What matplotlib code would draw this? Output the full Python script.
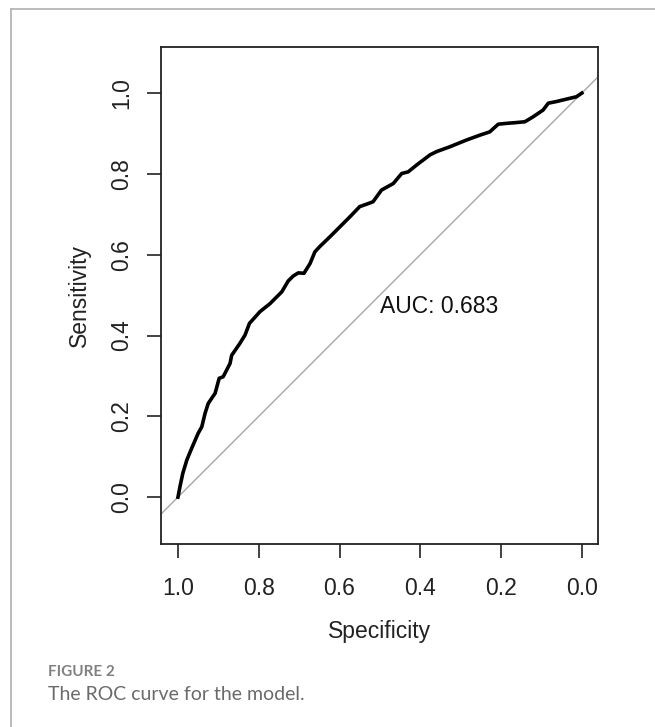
import matplotlib
matplotlib.use("Agg")
import matplotlib.pyplot as plt
from matplotlib.lines import Line2D

# ROC curve points (specificity, sensitivity)
specificity = [1.000, 0.995, 0.988, 0.978, 0.966, 0.950, 0.941, 0.933, 0.925, 0.908,
               0.898, 0.888, 0.871, 0.867, 0.847, 0.834, 0.823, 0.805, 0.797, 0.772,
               0.743, 0.727, 0.715, 0.702, 0.688, 0.673, 0.661, 0.649, 0.624, 0.599,
               0.574, 0.550, 0.533, 0.517, 0.496, 0.467, 0.446, 0.430, 0.409, 0.376,
               0.360, 0.327, 0.285, 0.252, 0.228, 0.207, 0.187, 0.162, 0.141, 0.121,
               0.096, 0.083, 0.063, 0.038, 0.013, 0.000]
sensitivity = [0.000, 0.026, 0.059, 0.092, 0.121, 0.158, 0.174, 0.207, 0.232, 0.257,
               0.294, 0.298, 0.331, 0.351, 0.380, 0.401, 0.430, 0.450, 0.459, 0.479,
               0.508, 0.535, 0.547, 0.555, 0.554, 0.578, 0.607, 0.620, 0.644, 0.669,
               0.694, 0.719, 0.725, 0.731, 0.760, 0.776, 0.801, 0.805, 0.822, 0.847,
               0.855, 0.867, 0.884, 0.896, 0.904, 0.923, 0.925, 0.927, 0.929, 0.941,
               0.958, 0.975, 0.979, 0.985, 0.991, 1.000]
auc_value = 0.683
ticks = [0.0, 0.2, 0.4, 0.6, 0.8, 1.0]

plt.rcParams['font.family'] = ['Liberation Sans', 'DejaVu Sans']

fig = plt.figure(figsize=(6.55, 7.27), dpi=100)
ax = fig.add_axes([161 / 655, 1 - 544 / 727, 437 / 655, 497 / 727])

# chance diagonal
ax.plot([1.2, -0.2], [-0.2, 1.2], color='#a6a6a6', lw=1.0, zorder=1)
ax.plot(specificity, sensitivity, color='black', lw=2.6, zorder=2,
        solid_joinstyle='round')

ax.set_xlim(1.042, -0.040)
ax.set_ylim(-0.116, 1.114)

ax.text(0.5, 0.5, f"AUC: {auc_value:.3f}", ha='left', va='top',
        fontsize=16.5, color='#111111')

ax.set_xticks(ticks)
ax.set_yticks(ticks)
ax.set_xticklabels([f"{t:.1f}" for t in ticks])
ax.set_yticklabels([f"{t:.1f}" for t in ticks], rotation=90, va='center')
ax.tick_params(direction='out', length=10, width=1.2, labelsize=16.5,
               colors='#222222')
ax.tick_params(axis='x', pad=14)
ax.tick_params(axis='y', pad=10)
for s in ax.spines.values():
    s.set_linewidth(1.3)
    s.set_color('#222222')

ax.set_xlabel('Specificity', fontsize=16.5, color='#222222', labelpad=14)
ax.set_ylabel('Sensitivity', fontsize=16.5, color='#222222', labelpad=14)

# outer panel frame (top and left edges)
fig.add_artist(Line2D([11 / 655, 1.0], [1 - 9 / 727, 1 - 9 / 727],
                      color='#b0b0b0', lw=1.2, transform=fig.transFigure))
fig.add_artist(Line2D([11 / 655, 11 / 655], [0.0, 1 - 9 / 727],
                      color='#b0b0b0', lw=1.2, transform=fig.transFigure))

fig.text(48 / 655, 1 - 672 / 727, 'FIGURE 2', fontsize=11, fontweight='bold',
         color='#808080', family=['Lato', 'DejaVu Sans'], va='center')
fig.text(48 / 655, 1 - 695 / 727, 'The ROC curve for the model.', fontsize=14,
         color='#6a6a6a', family=['Lato', 'DejaVu Sans'], va='center')

fig.savefig('out.png', dpi=100)
